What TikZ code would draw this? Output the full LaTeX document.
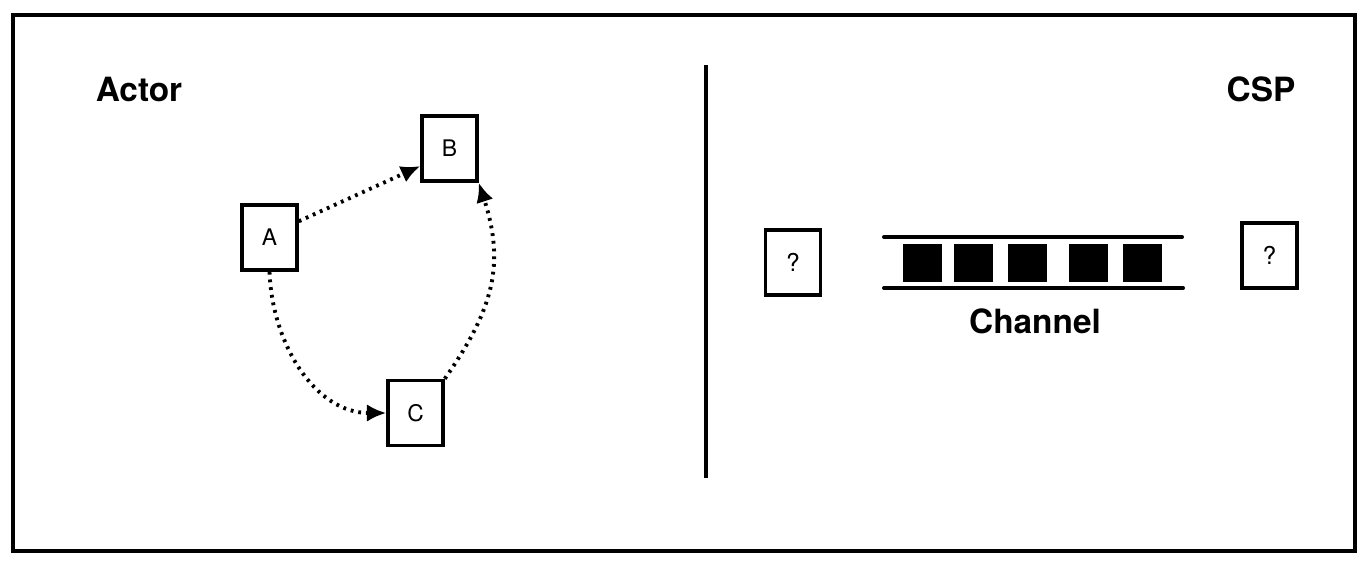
\documentclass[tikz,border=0pt]{standalone}
\usepackage{fontspec}
\setmainfont{TeX Gyre Heros}
\usetikzlibrary{arrows.meta}
\begin{document}
\begin{tikzpicture}[x=0.02cm,y=-0.02cm,
  box/.style={draw,line width=2pt,minimum width=1.1cm,minimum height=1.3cm,inner sep=0pt,font=\fontsize{13}{15}\selectfont},
  qbox/.style={box,font=\fontsize{14}{16}\selectfont},
  msg/.style={fill=black,minimum width=0.78cm,minimum height=0.76cm,inner sep=0pt},
  title/.style={font=\fontsize{19}{22}\selectfont\bfseries},
  rail/.style={line width=2.3pt,line cap=round},
  link/.style={line width=2.2pt,dash pattern=on 1.6pt off 2.8pt,-{Latex[length=11pt,width=10pt]}}]
\useasboundingbox (0,0) rectangle (1368,561);
\draw[line width=1.9pt] (13,15) rectangle (1355,551);
\draw[line width=1.8pt] (706,65) -- (706,478);
% actor side
\node[title] (actor) at (139,89) {Actor};
\node[box] (A) at (269.5,237.5) {A};
\node[box] (B) at (449.5,148.5) {B};
\node[box] (C) at (415.5,413) {C};
\draw[link] (A.29) -- (B.-149);
\draw[link] (A.south) to[out=-88,in=180] (C.west);
\draw[link] (C.north east) to[out=55,in=-72,looseness=1.1] (B.south east);
% csp side
\node[title] (csp) at (1261,89) {CSP};
\node[qbox] (left) at (793,262.5) {?};
\node[qbox] (right) at (1269.5,255.5) {?};
\draw[rail] (884,237) -- (1182,237);
\draw[rail] (884,288) -- (1183,288);
\foreach \x/\n in {922/m1,973/m2,1027/m3,1088/m4,1142/m5}
  \node[msg] (\n) at (\x,263) {};
\node[title] (channel) at (1035,321) {Channel};
\end{tikzpicture}
\end{document}
